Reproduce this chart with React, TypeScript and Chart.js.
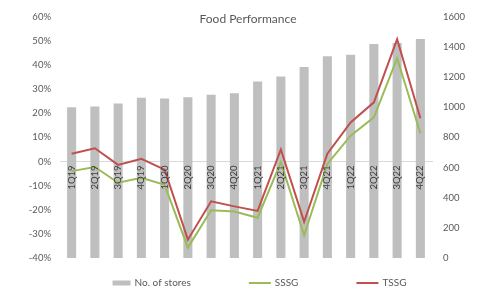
import React, { useEffect, useRef } from 'react';
import { Chart, registerables } from 'chart.js';

Chart.register(...registerables);

const TITLE = 'Food Performance';
const categories = ['1Q19', '2Q19', '3Q19', '4Q19', '1Q20', '2Q20', '3Q20', '4Q20', '1Q21', '2Q21', '3Q21', '4Q21', '1Q22', '2Q22', '3Q22', '4Q22'];
const storeCounts = [1000, 1005, 1025, 1062, 1058, 1066, 1082, 1093, 1170, 1203, 1267, 1338, 1347, 1419, 1426, 1452];
const sssgValues = [-4.0, -2.3, -8.8, -6.8, -9.7, -35.7, -20.2, -20.7, -23.3, -0.3, -30.6, -1.0, 10.7, 18.3, 42.8, 11.7];
const tssgValues = [3.2, 5.5, -1.4, 1.1, -3.4, -32.4, -16.5, -18.6, -20.5, 5.0, -25.0, 3.2, 16.2, 24.5, 50.7, 17.9];
const pctMin = -40;
const pctMax = 60;
const pctStep = 10;
const storeMin = 0;
const storeMax = 1600;
const storeStep = 200;

const FONT = 'Lato, "Open Sans", sans-serif';
const BAR_COLOR = '#bfbfbf';
const SSSG_COLOR = '#9bbb59';
const TSSG_COLOR = '#c0504d';
const TEXT_COLOR = '#595959';

const overlayPlugin = {
  id: 'overlay',
  afterDraw(chart: any) {
    const { ctx, chartArea } = chart;
    ctx.save();
    ctx.fillStyle = TEXT_COLOR;
    ctx.font = `12px ${FONT}`;
    ctx.textAlign = 'center';
    ctx.textBaseline = 'middle';
    ctx.fillText(TITLE, (chartArea.left + chartArea.right) / 2 + 2, chartArea.top + 2);

    // legend
    ctx.font = `10px ${FONT}`;
    ctx.textAlign = 'left';
    const y = chartArea.bottom + 25;
    const gap = 58;
    const items = chart.data.datasets.map((ds: any) => {
      const sw = ds.type === 'line' ? 22 : 18;
      const tw = ctx.measureText(ds.label).width;
      return { ds, sw, tw, w: sw + 4 + tw };
    });
    const total = items.reduce((a: number, it: any) => a + it.w, 0) + gap * (items.length - 1);
    let x = chart.width / 2 + 18 - total / 2;
    items.forEach((it: any) => {
      if (it.ds.type === 'line') {
        ctx.strokeStyle = it.ds.borderColor;
        ctx.lineWidth = 2;
        ctx.beginPath();
        ctx.moveTo(x, y);
        ctx.lineTo(x + it.sw, y);
        ctx.stroke();
      } else {
        ctx.fillStyle = it.ds.backgroundColor;
        ctx.fillRect(x, y - 2.5, it.sw, 5);
      }
      ctx.fillStyle = TEXT_COLOR;
      ctx.fillText(it.ds.label, x + it.sw + 4, y);
      x += it.w + gap;
    });
    ctx.restore();
  },
};

export default function App() {
  const canvasRef = useRef<HTMLCanvasElement | null>(null);

  useEffect(() => {
    document.body.style.margin = '0';
    const canvas = canvasRef.current;
    if (!canvas) return;
    const chart = new Chart(canvas, {
      data: {
        labels: categories,
        datasets: [
          {
            type: 'bar',
            label: 'No. of stores',
            data: storeCounts,
            backgroundColor: BAR_COLOR,
            yAxisID: 'y1',
            order: 3,
            barPercentage: 0.39,
            categoryPercentage: 1,
          },
          {
            type: 'line',
            label: 'SSSG',
            data: sssgValues,
            borderColor: SSSG_COLOR,
            backgroundColor: SSSG_COLOR,
            borderWidth: 2,
            pointRadius: 0,
            tension: 0,
            yAxisID: 'y',
            order: 2,
          },
          {
            type: 'line',
            label: 'TSSG',
            data: tssgValues,
            borderColor: TSSG_COLOR,
            backgroundColor: TSSG_COLOR,
            borderWidth: 2,
            pointRadius: 0,
            tension: 0,
            yAxisID: 'y',
            order: 1,
          },
        ] as any,
      },
      options: {
        animation: false,
        responsive: false,
        maintainAspectRatio: false,
        layout: { padding: { top: 16, bottom: 33, left: 0, right: 0 } },
        plugins: {
          legend: { display: false },
          title: { display: false },
          tooltip: { enabled: false },
        },
        scales: {
          x: {
            type: 'category',
            position: { y: 0 } as any,
            offset: true,
            grid: { display: false, drawTicks: false },
            border: { display: true, color: '#d9d9d9', width: 1 },
            ticks: {
              minRotation: 90,
              maxRotation: 90,
              autoSkip: false,
              padding: 4,
              color: '#404040',
              font: { family: FONT, size: 9.5 },
              z: 1,
            } as any,
          },
          y: {
            position: 'left',
            min: pctMin,
            max: pctMax,
            grid: { display: false, drawTicks: false },
            border: { display: false },
            ticks: {
              stepSize: pctStep,
              padding: 9,
              color: TEXT_COLOR,
              font: { family: FONT, size: 9.5 },
              callback: (v: any) => `${v}%`,
            },
            afterFit: (s: any) => {
              s.width = 60;
            },
          },
          y1: {
            position: 'right',
            min: storeMin,
            max: storeMax,
            grid: { display: false, drawTicks: false },
            border: { display: false },
            ticks: {
              stepSize: storeStep,
              padding: 11,
              color: TEXT_COLOR,
              font: { family: FONT, size: 9.5 },
              callback: (v: any) => String(v),
            },
            afterFit: (s: any) => {
              s.width = 51;
            },
          },
        },
      },
      plugins: [overlayPlugin],
    });
    return () => chart.destroy();
  }, []);

  return (
    <div style={{ width: 483, height: 291 }}>
      <canvas ref={canvasRef} width={483} height={291} style={{ display: 'block' }} />
    </div>
  );
}
